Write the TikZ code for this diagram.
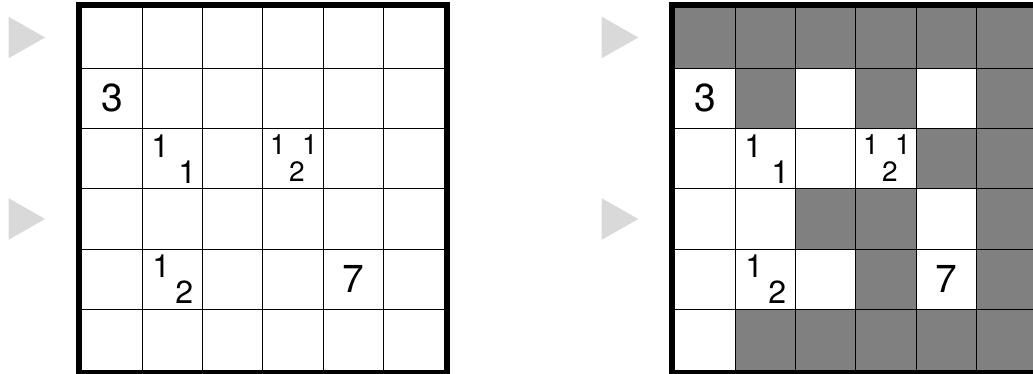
\documentclass[tikz,border=0pt]{standalone}
\usepackage{fontspec}
\setmainfont{TeX Gyre Heros}

\begin{document}
\begin{tikzpicture}[
  x=1pt, y=-1pt,
  pointer/.style={fill=black!15, draw=none},
  shaded/.style={fill=black!50, draw=none},
  gridline/.style={line width=0.9pt, black},
  outerframe/.style={line width=6pt, black},
  bigclue/.style={inner sep=0pt, font=\fontsize{39}{39}\selectfont},
  midclue/.style={inner sep=0pt, font=\fontsize{32}{32}\selectfont},
  smallclue/.style={inner sep=0pt, font=\fontsize{28}{28}\selectfont}]
\clip (0,0) rectangle (1033,374);

% pointers at rows 1 and 4
\foreach \px in {8.5,601.7}
  \foreach \py in {37.5,219}
    \fill[pointer] (\px,\py-20.8) -- (\px+36.6,\py) -- (\px,\py+20.8) -- cycle;

% solution shading (right grid)
\begin{scope}[shift={(675pt,-8pt)}, x=60.25pt, y=-60.25pt]
  \foreach \c/\r in {0/0,1/0,2/0,3/0,4/0,5/0, 1/1,3/1,5/1, 4/2,5/2,
                     2/3,3/3,5/3, 3/4,5/4, 1/5,2/5,3/5,4/5,5/5}
    \fill[shaded] (\c,\r) rectangle (\c+1,\r+1);
\end{scope}

% both grids with their clues
\foreach \gx/\gn in {82/L,675/R} {
  \begin{scope}[shift={(\gx pt,-8pt)}, x=60.25pt, y=-60.25pt]
    \foreach \i in {1,...,5} {
      \draw[gridline] (\i,0) -- (\i,6);
      \draw[gridline] (0,\i) -- (6,\i);
    }
    \draw[outerframe] ([shift={(-3pt,3pt)}]0,0) rectangle ([shift={(3pt,-3pt)}]6,6);

    \node[bigclue] (three-\gn) at (0.5,1.5) {3};
    \node[bigclue] (seven-\gn) at (4.5,4.5) {7};

    \node[midclue] (ta-\gn) at ([shift={(-12pt,12pt)}]1.5,2.5) {1};
    \node[midclue] (tb-\gn) at ([shift={(15pt,-14pt)}]1.5,2.5) {1};

    \node[smallclue] (ua-\gn) at ([shift={(-15pt,13.7pt)}]3.5,2.5) {1};
    \node[smallclue] (ub-\gn) at ([shift={(17pt,13.7pt)}]3.5,2.5) {1};
    \node[smallclue] (uc-\gn) at ([shift={(4pt,-13pt)}]3.5,2.5) {2};

    \node[midclue] (va-\gn) at ([shift={(-11pt,12.7pt)}]1.5,4.5) {1};
    \node[midclue] (vb-\gn) at ([shift={(12pt,-13.5pt)}]1.5,4.5) {2};
  \end{scope}
}
\end{tikzpicture}
\end{document}
